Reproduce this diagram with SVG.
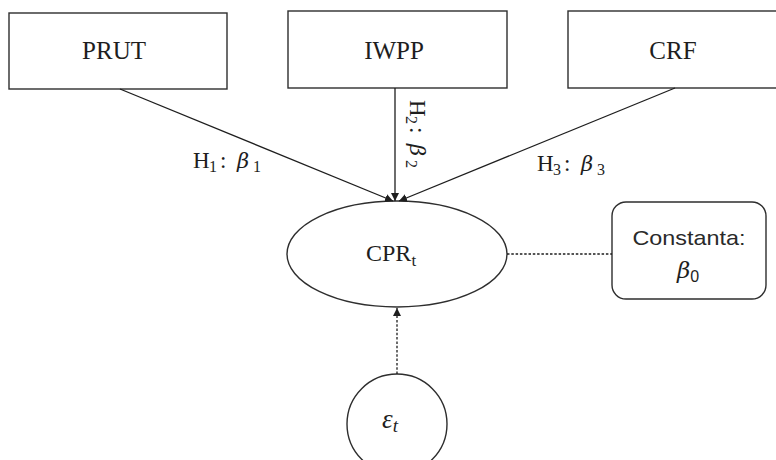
<svg xmlns="http://www.w3.org/2000/svg" width="776" height="460" viewBox="0 0 776 460">
<defs>
<style>
.box{fill:#fff;stroke:#2e2e2e;stroke-width:1.4}
.conn{fill:none;stroke:#1e1e1e;stroke-width:1.3}
.dot{fill:none;stroke:#1e1e1e;stroke-width:1.3;stroke-dasharray:2.5 1.8}
.serif{font-family:"Liberation Serif","DejaVu Serif",serif;fill:#1e1e1e}
.sans{font-family:"Liberation Sans","Noto Sans",sans-serif;fill:#2a2a2a}
.lbl{font-family:"Liberation Serif","DejaVu Serif",serif;font-size:23px;fill:#1e1e1e}
.sub{font-size:16px}
.beta{font-family:"DejaVu Serif",serif;font-style:italic;font-size:21px}
</style>
<marker id="ah" viewBox="0 0 10 10" refX="10" refY="5" markerWidth="8" markerHeight="8" markerUnits="userSpaceOnUse" orient="auto">
<path d="M0,0 L10,5 L0,10 Z" fill="#1e1e1e"/>
</marker>
</defs>
<rect width="776" height="460" fill="#fff"/>

<g id="prut">
<rect class="box" x="9" y="13" width="218" height="76"/>
<text class="serif" x="114" y="59" font-size="25" text-anchor="middle">PRUT</text>
</g>
<g id="iwpp">
<rect class="box" x="288" y="11" width="219" height="77"/>
<text class="serif" x="394" y="59" font-size="25" text-anchor="middle">IWPP</text>
</g>
<g id="crf">
<rect class="box" x="568" y="11" width="218" height="77"/>
<text class="serif" x="673" y="59" font-size="25" text-anchor="middle">CRF</text>
</g>
<g id="cpr">
<ellipse class="box" cx="397" cy="254" rx="110" ry="53"/>
<text class="serif" x="366" y="261" font-size="24">CPR<tspan style="font-size:17px" dy="5">t</tspan></text>
</g>
<g id="constanta">
<rect class="box" x="612" y="202" width="154" height="97" rx="14"/>
<text class="sans" x="689" y="245" font-size="21" text-anchor="middle" textLength="113" lengthAdjust="spacingAndGlyphs">Constanta:</text>
<text class="serif" x="677" y="278"><tspan class="beta" style="font-size:23px">β</tspan><tspan font-family="Liberation Sans,sans-serif" style="font-size:16px" dy="4">0</tspan></text>
</g>
<g id="epsilon">
<circle class="box" cx="397" cy="424" r="50"/>
<text class="serif" x="382" y="428" style="font-size:27px;font-style:italic">ε<tspan style="font-size:19px" dy="4">t</tspan></text>
</g>

<g id="connectors">
<line class="conn" x1="120" y1="89" x2="393" y2="201" marker-end="url(#ah)"/>
<line class="conn" x1="395" y1="88" x2="395" y2="201" marker-end="url(#ah)"/>
<line class="conn" x1="675" y1="88" x2="399" y2="201" marker-end="url(#ah)"/>
<line class="dot" x1="507" y1="254" x2="612" y2="254"/>
<line class="dot" x1="397" y1="374" x2="397" y2="308" marker-end="url(#ah)"/>
</g>

<g id="labels">
<text class="lbl" transform="translate(193,168)"><tspan x="0" y="0">H</tspan><tspan class="sub" x="16" y="4">1</tspan><tspan x="27" y="0">:</tspan><tspan class="beta" x="44" y="0">β</tspan><tspan class="sub" x="60" y="4">1</tspan></text>
<text class="lbl" transform="translate(410,100) rotate(90)"><tspan x="0" y="0">H</tspan><tspan class="sub" x="16" y="4">2</tspan><tspan x="27" y="0">:</tspan><tspan class="beta" x="44" y="0">β</tspan><tspan class="sub" x="60" y="4">2</tspan></text>
<text class="lbl" transform="translate(537,171)"><tspan x="0" y="0">H</tspan><tspan class="sub" x="16" y="4">3</tspan><tspan x="27" y="0">:</tspan><tspan class="beta" x="44" y="0">β</tspan><tspan class="sub" x="60" y="4">3</tspan></text>
</g>
</svg>
